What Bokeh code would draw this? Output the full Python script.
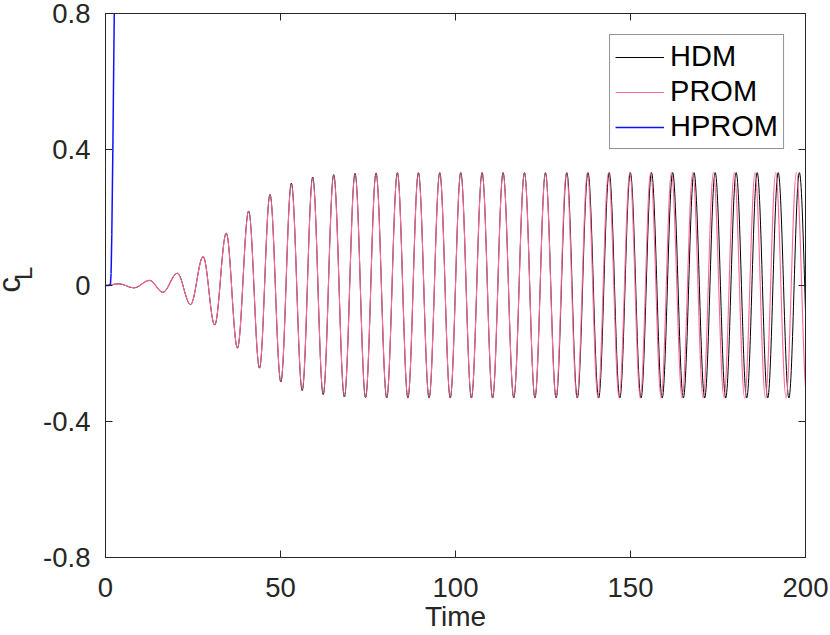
import numpy as np
from bokeh.plotting import figure
from bokeh.layouts import row
from bokeh.models import (Range1d, FixedTicker, LinearAxis, Legend, LegendItem,
                          ColumnDataSource)
from bokeh.core.properties import value
from bokeh.embed import file_html
from bokeh.resources import INLINE

# ---- data: extrema (time, c_L) of each signal ----
prom_t = [0.0, 3.8, 8.1, 12.6, 16.4, 20.5, 24.3, 27.9, 31.2, 34.5,
          37.7, 40.9, 44.0, 47.0, 50.1, 53.1, 56.2, 59.2, 62.2, 65.2,
          68.25, 71.3, 74.3, 77.3, 80.35, 83.4, 86.4, 89.4, 92.45, 95.5,
          98.5, 101.5, 104.55, 107.6, 110.6, 113.6, 116.65, 119.7, 122.7, 125.7,
          128.7, 131.7, 134.7, 137.7, 140.7, 143.7, 146.75, 149.8, 152.8, 155.75,
          158.75, 161.7, 164.75, 167.8, 170.75, 173.7, 176.7, 179.65, 182.6, 185.6,
          188.55, 191.5, 194.45, 197.4, 200.4]
prom_v = [0.0, 0.005, -0.007, 0.015, -0.020, 0.036, -0.056, 0.085, -0.116, 0.154,
          -0.184, 0.219, -0.243, 0.268, -0.282, 0.298, -0.306, 0.316, -0.319, 0.324,
          -0.326, 0.329, -0.329, 0.331, -0.330, 0.332, -0.331, 0.332, -0.331, 0.332,
          -0.331, 0.332, -0.331, 0.332, -0.331, 0.332, -0.331, 0.332, -0.331, 0.332,
          -0.331, 0.332, -0.331, 0.332, -0.331, 0.332, -0.331, 0.332, -0.331, 0.332,
          -0.331, 0.332, -0.331, 0.332, -0.331, 0.332, -0.331, 0.332, -0.331, 0.332,
          -0.331, 0.332, -0.331, 0.332, -0.331]

hdm_t = [0.0, 3.8, 8.1, 12.6, 16.4, 20.5, 24.3, 27.9, 31.2, 34.5,
         37.7, 40.9, 44.0, 47.0, 50.1, 53.1, 56.2, 59.2, 62.2, 65.2,
         68.25, 71.3, 74.3, 77.3, 80.35, 83.4, 86.4, 89.4, 92.45, 95.5,
         98.5, 101.5, 104.55, 107.6, 110.6, 113.6, 116.65, 119.7, 122.7, 125.7,
         128.75, 131.8, 134.8, 137.85, 140.9, 143.9, 146.95, 149.95, 153.0, 156.0,
         159.05, 162.05, 165.1, 168.15, 171.2, 174.2, 177.2, 180.2, 183.2, 186.2,
         189.2, 192.2, 195.25, 198.25, 201.3]
hdm_v = [0.0, 0.005, -0.007, 0.015, -0.020, 0.036, -0.056, 0.085, -0.116, 0.154,
         -0.184, 0.219, -0.243, 0.268, -0.284, 0.301, -0.309, 0.319, -0.321, 0.326,
         -0.328, 0.330, -0.330, 0.331, -0.331, 0.332, -0.331, 0.332, -0.331, 0.332,
         -0.331, 0.332, -0.331, 0.332, -0.331, 0.332, -0.331, 0.332, -0.331, 0.332,
         -0.331, 0.332, -0.331, 0.332, -0.331, 0.332, -0.331, 0.332, -0.331, 0.332,
         -0.331, 0.332, -0.331, 0.332, -0.331, 0.332, -0.331, 0.332, -0.331, 0.332,
         -0.331, 0.332, -0.331, 0.332, -0.331]

hprom_t = [0.0, 0.5, 1.0, 1.4, 1.6, 1.8, 2.1, 2.5, 2.8]
hprom_v = [0.0, 0.0, 0.0, 0.002, 0.035, 0.15, 0.4, 0.8, 1.1]

x_ticks = [0, 50, 100, 150, 200]
y_ticks = [-0.8, -0.4, 0, 0.4, 0.8]
y_tick_labels = ["-0.8", "-0.4", "0", "0.4", "0.8"]
series_names = ["HDM", "PROM", "HPROM"]
x_title = "Time"
y_title_main, y_title_sub = "c", "L"

# ---- styling ----
FONT = "Liberation Sans"
AX = "#262626"
C_HDM = "#000000"
C_PROM = "#ff6699"
C_HPROM = "#1010ff"
K = 0.3634  # cubic-Bezier handle fraction approximating a half cosine between extrema
TOTAL_W, TOTAL_H = 830, 635
TITLE_W = 40  # width of the strip that carries the rotated y title


def bezier_source(t, v, k):
    t = np.asarray(t, dtype=float)
    v = np.asarray(v, dtype=float)
    x0, x1 = t[:-1], t[1:]
    y0, y1 = v[:-1], v[1:]
    h = x1 - x0
    if k is None:  # straight pieces between the read points
        return ColumnDataSource(dict(x0=x0, y0=y0, x1=x1, y1=y1,
                                     cx0=x0 + h / 3, cy0=y0 + (y1 - y0) / 3,
                                     cx1=x1 - h / 3, cy1=y1 - (y1 - y0) / 3))
    return ColumnDataSource(dict(x0=x0, y0=y0, x1=x1, y1=y1,
                                 cx0=x0 + k * h, cy0=y0,
                                 cx1=x1 - k * h, cy1=y1))


p = figure(width=TOTAL_W - TITLE_W, height=TOTAL_H,
           x_range=Range1d(0, 200), y_range=Range1d(-0.8, 0.8),
           output_backend="svg", toolbar_location=None,
           min_border_left=105 - TITLE_W, min_border_right=25,
           min_border_top=13, min_border_bottom=78)
p.background_fill_color = "white"
p.border_fill_color = "white"
p.grid.visible = False
p.outline_line_color = AX
p.outline_line_width = 1


def style_axis(ax, ticks, labels=None, show_labels=True):
    ax.ticker = FixedTicker(ticks=ticks)
    ax.major_tick_in = 7
    ax.major_tick_out = 0
    ax.minor_tick_in = 0
    ax.minor_tick_out = 0
    ax.axis_line_color = AX
    ax.major_tick_line_color = AX
    if show_labels:
        ax.major_label_text_font = FONT
        ax.major_label_text_font_size = "27.5px"
        ax.major_label_text_color = AX
        if labels is not None:
            ax.major_label_overrides = {t: l for t, l in zip(ticks, labels)}
    else:
        ax.axis_label = None
        ax.major_label_overrides = {t: "" for t in ticks}
        ax.major_label_text_font_size = "1px"
        ax.major_label_standoff = 0


xa = p.xaxis[0]
ya = p.yaxis[0]
style_axis(xa, x_ticks)
style_axis(ya, y_ticks, y_tick_labels)
xa.major_label_standoff = 20
ya.major_label_standoff = 15
ya.axis_label = None
xa.axis_label = x_title
xa.axis_label_standoff = 1
xa.axis_label_text_font = FONT
xa.axis_label_text_font_size = "28px"
xa.axis_label_text_font_style = "normal"
xa.axis_label_text_color = AX

top_ax = LinearAxis()
right_ax = LinearAxis()
style_axis(top_ax, x_ticks, show_labels=False)
style_axis(right_ax, y_ticks, show_labels=False)
p.add_layout(top_ax, "above")
p.add_layout(right_ax, "right")

bez = dict(x0="x0", y0="y0", x1="x1", y1="y1", cx0="cx0", cy0="cy0",
           cx1="cx1", cy1="cy1")
r_hdm = p.bezier(source=bezier_source(hdm_t, hdm_v, K), line_color=C_HDM,
                 line_width=1, **bez)
r_prom = p.bezier(source=bezier_source(prom_t, prom_v, K), line_color=C_PROM,
                  line_width=1.1, **bez)
r_hprom = p.bezier(source=bezier_source(hprom_t, hprom_v, None), line_color=C_HPROM,
                   line_width=1.5, **bez)

legend = Legend(items=[LegendItem(label=series_names[0], renderers=[r_hdm]),
                       LegendItem(label=series_names[1], renderers=[r_prom]),
                       LegendItem(label=series_names[2], renderers=[r_hprom])],
                location="top_right", margin=21, padding=5, spacing=2,
                glyph_width=49, glyph_height=20, label_standoff=6,
                label_text_font=FONT, label_text_font_size="29px",
                label_text_color="black",
                border_line_color=AX, border_line_width=1,
                background_fill_color="white", background_fill_alpha=1)
p.add_layout(legend)

# ---- strip on the left carrying the rotated y title c_L (shares the y scale) ----
t = figure(width=TITLE_W, height=TOTAL_H, x_range=Range1d(0, TITLE_W),
           y_range=p.y_range, output_backend="svg",
           toolbar_location=None, x_axis_location=None, y_axis_location=None,
           min_border=0)
t.grid.visible = False
t.outline_line_color = None
t.background_fill_color = "white"
t.border_fill_color = "white"
t.text(x=[9], y=[0.002], text=[y_title_main], angle=np.pi / 2,
       text_align="center", text_baseline="middle",
       text_font=value(FONT), text_font_size=value("31px"), text_color=AX)
t.text(x=[23], y=[0.036], text=[y_title_sub], angle=np.pi / 2,
       text_align="center", text_baseline="middle",
       text_font=value(FONT), text_font_size=value("24px"), text_color=AX)

layout = row(t, p, spacing=0)
open("out.html", "w").write(file_html(layout, INLINE))
